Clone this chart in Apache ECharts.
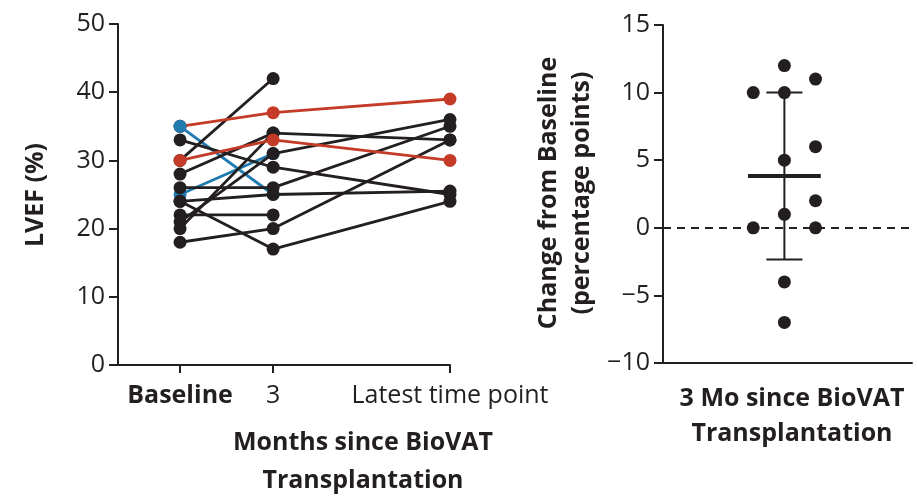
<!DOCTYPE html>
<html>
<head>
<meta charset="utf-8">
<script src="https://cdn.jsdelivr.net/npm/echarts@6/dist/echarts.min.js"></script>
<style>
  html, body { margin: 0; padding: 0; background: #fff; }
  #main { width: 917px; height: 499px; }
</style>
</head>
<body>
<div id="main"></div>
<script>
// time points (months) and their labels
var timeLabels = ['Baseline', '3', 'Latest time point'];
var timeMonths = [0, 3, 8.7];

// LVEF (%) per patient
var patientGroup = ['red', 'blue', 'black', 'red', 'black', 'black', 'blue', 'black', 'black', 'black', 'black', 'black', 'black', 'black'];
var lvefBaseline = [35, 35, 30, 30, 33, 28, 25, 26, 24, 24, 22, 21, 20, 18];
var lvefMonth3   = [37, 25, 42, 33, 29, 34, 31, 26, 25, 17, 22, 31, 34, 20];
var lvefLatest   = [39, null, null, 30, 25, 33, null, 35, 25.5, 24, null, 36, null, 33];

// change from baseline at 3 months, grouped by column
var changeLeft = [10, 0];
var changeCenter = [12, 10, 5, 1, -4, -7];
var changeRight = [11, 6, 2, 0];
var columnX = [-1, 0, 1];

var INK = '#231f20';
var colors = { red: '#c43b27', blue: '#1f7bb0', black: INK };
var FONT = 'Open Sans';

var chart = echarts.init(document.getElementById('main'));

// mean and SD of the changes
var allChange = changeLeft.concat(changeCenter, changeRight);
var mean = allChange.reduce(function (a, b) { return a + b; }, 0) / allChange.length;
var sd = Math.sqrt(allChange.reduce(function (a, b) { return a + (b - mean) * (b - mean); }, 0) / (allChange.length - 1));

var series = [];
var zOf = { blue: 1, black: 2, red: 3 };
for (var i = 0; i < lvefBaseline.length; i++) {
  var vals = [lvefBaseline[i], lvefMonth3[i], lvefLatest[i]];
  var pts = [];
  for (var j = 0; j < vals.length; j++) {
    if (vals[j] != null) pts.push([timeMonths[j], vals[j]]);
  }
  var c = colors[patientGroup[i]];
  series.push({
    type: 'line', xAxisIndex: 0, yAxisIndex: 0, data: pts,
    symbol: 'circle', symbolSize: 13, showSymbol: true,
    lineStyle: { color: c, width: 2.8 }, itemStyle: { color: c, opacity: 1 },
    z: zOf[patientGroup[i]], silent: true, animation: false
  });
}
// blue baseline dot drawn on top
var blueDots = [];
for (var k = 0; k < lvefBaseline.length; k++) {
  if (patientGroup[k] === 'blue') blueDots.push([timeMonths[0], lvefBaseline[k]]);
}
series.push({
  type: 'scatter', xAxisIndex: 0, yAxisIndex: 0, data: blueDots.slice(0, 1),
  symbolSize: 13, itemStyle: { color: colors.blue, opacity: 1 }, z: 4, animation: false
});

// right panel points
function colPts(arr, x) { return arr.map(function (v) { return [x, v]; }); }
series.push({
  type: 'scatter', xAxisIndex: 1, yAxisIndex: 1,
  data: colPts(changeLeft, columnX[0]).concat(colPts(changeCenter, columnX[1]), colPts(changeRight, columnX[2])),
  symbolSize: 13, itemStyle: { color: INK, opacity: 1 }, z: 5, animation: false,
  markLine: {
    silent: true, symbol: 'none', label: { show: false }, animation: false,
    lineStyle: { color: INK, width: 2, type: [8, 6] },
    data: [{ yAxis: 0 }]
  }
});
function seg(data, w) {
  return {
    type: 'line', xAxisIndex: 1, yAxisIndex: 1, data: data, symbol: 'none',
    lineStyle: { color: INK, width: w }, z: 4, animation: false, silent: true
  };
}
series.push(seg([[0, mean - sd], [0, mean + sd]], 2));
series.push(seg([[-0.58, mean - sd], [0.58, mean - sd]], 2));
series.push(seg([[-0.58, mean + sd], [0.58, mean + sd]], 2));
series.push(seg([[-1.17, mean], [1.17, mean]], 4));

var lineSt = { color: INK, width: 2 };
var labelBase = { color: INK, fontFamily: FONT, fontSize: 25 };
var titleFont = 'bold 25px "Open Sans"';

var option = {
  backgroundColor: '#fff',
  animation: false,
  grid: [
    { left: 118, top: 24, width: 332, height: 341 },
    { left: 663, top: 25, width: 249, height: 338 }
  ],
  xAxis: [
    {
      type: 'value', gridIndex: 0, min: -2, max: 8.7,
      axisLine: { onZero: false, lineStyle: lineSt }, splitLine: { show: false },
      axisTick: { show: true, length: 8, customValues: timeMonths, lineStyle: lineSt },
      axisLabel: {
        customValues: timeMonths, margin: 18, color: INK, fontFamily: FONT, fontSize: 25,
        formatter: function (v) {
          var idx = timeMonths.indexOf(v);
          if (idx === 0) return '{b|' + timeLabels[0] + '}';
          return idx >= 0 ? timeLabels[idx] : '';
        },
        rich: { b: { fontWeight: 'bold', fontFamily: FONT, fontSize: 25, color: INK } }
      }
    },
    {
      type: 'value', gridIndex: 1, min: -3.9, max: 4.1,
      axisLine: { onZero: false, lineStyle: lineSt }, splitLine: { show: false },
      axisTick: { show: false }, axisLabel: { show: false }
    }
  ],
  yAxis: [
    {
      type: 'value', gridIndex: 0, min: 0, max: 50, interval: 10,
      axisLine: { show: true, onZero: false, lineStyle: lineSt },
      axisTick: { show: true, length: 9, lineStyle: lineSt },
      splitLine: { show: false },
      axisLabel: Object.assign({ margin: 13 }, labelBase)
    },
    {
      type: 'value', gridIndex: 1, min: -10, max: 15, interval: 5,
      axisLine: { show: true, onZero: false, lineStyle: lineSt },
      axisTick: { show: true, length: 9, lineStyle: lineSt },
      splitLine: { show: false },
      axisLabel: Object.assign({
        margin: 13,
        formatter: function (v) { return String(v).replace('-', '\u2212'); }
      }, labelBase)
    }
  ],
  graphic: [
    {
      type: 'text', x: 36, y: 195, rotation: Math.PI / 2,
      style: { text: 'LVEF (%)', fill: INK, font: titleFont, textAlign: 'center', textVerticalAlign: 'middle' }
    },
    {
      type: 'text', x: 565, y: 193, rotation: Math.PI / 2,
      style: { text: 'Change from Baseline\n(percentage points)', fill: INK, font: titleFont, lineHeight: 33, textAlign: 'center', textVerticalAlign: 'middle' }
    },
    {
      type: 'text', x: 363, y: 462,
      style: { text: 'Months since BioVAT\nTransplantation', fill: INK, font: titleFont, lineHeight: 38, textAlign: 'center', textVerticalAlign: 'middle' }
    },
    {
      type: 'text', x: 792, y: 416,
      style: { text: '3 Mo since BioVAT\nTransplantation', fill: INK, font: titleFont, lineHeight: 35, textAlign: 'center', textVerticalAlign: 'middle' }
    }
  ],
  series: series
};

chart.setOption(option);
</script>
</body>
</html>
